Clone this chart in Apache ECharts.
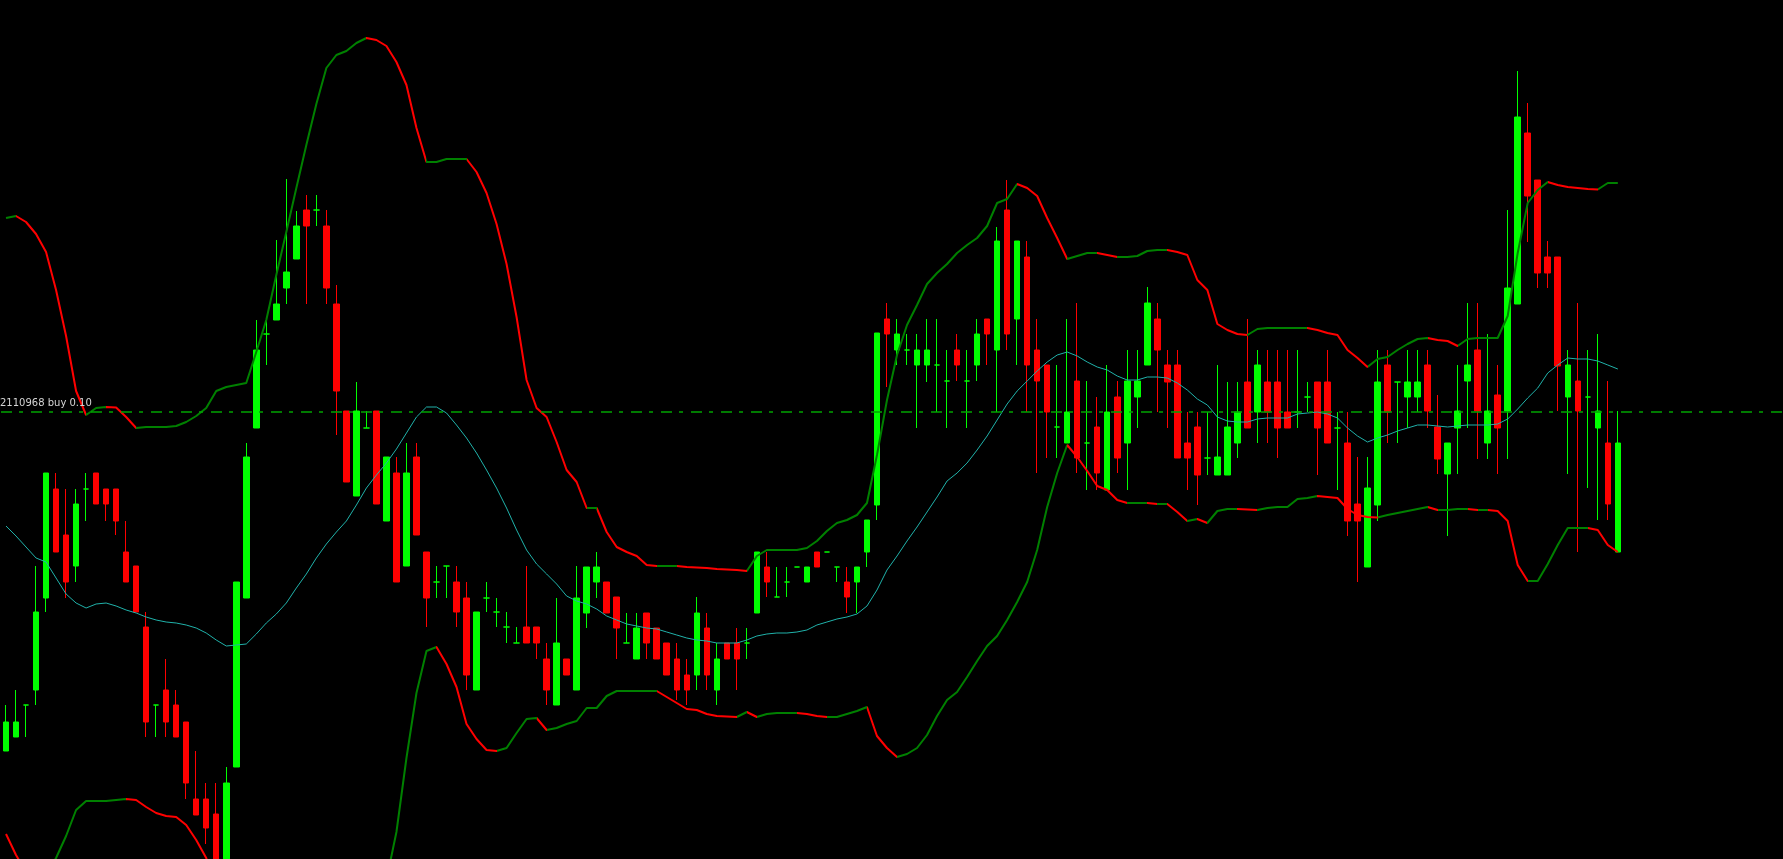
<!DOCTYPE html>
<html>
<head>
<meta charset="utf-8">
<title>Bollinger</title>
<script src="https://cdn.jsdelivr.net/npm/echarts/dist/echarts.min.js"></script>
<style>
  html, body { margin: 0; padding: 0; background: #000; }
  #chart { width: 1783px; height: 859px; }
</style>
</head>
<body>
<div id="chart"></div>
<script>
// K线数据（开、收、低、高）
const opens = [
  249, 263, 295, 310, 402, 511, 465, 434, 511, 527,
  511, 511, 448, 434, 373, 295, 310, 295, 278, 201,
  201, 186, 120, 233, 402, 572, 666, 680, 712, 741,
  790, 790, 774, 696, 589, 504, 572, 589, 479, 527,
  434, 543, 448, 418, 434, 418, 402, 310, 402, 388,
  373, 357, 373, 373, 341, 295, 341, 310, 387, 418,
  418, 403, 357, 341, 387, 372, 357, 341, 325, 325,
  372, 310, 357, 357, 357, 387, 433, 403, 418, 433,
  418, 448, 448, 433, 418, 418, 448, 495, 681, 650,
  650, 635, 635, 635, 619, 650, 619, 635, 681, 650,
  790, 681, 743, 650, 635, 573, 557, 619, 557, 573,
  510, 603, 557, 603, 635, 681, 635, 635, 557, 573,
  542, 525, 525, 557, 618, 588, 618, 618, 588, 588,
  603, 618, 618, 572, 557, 496, 433, 495, 635, 618,
  603, 603, 635, 573, 526, 572, 619, 650, 557, 605,
  589, 696, 867, 820, 743, 743, 603, 619, 603, 572,
  557, 448
]
const closes = [
  278, 278, 295, 388, 527, 448, 418, 496, 511, 496,
  496, 479, 418, 388, 278, 295, 278, 263, 217, 185,
  172, 130, 217, 418, 543, 650, 666, 696, 728, 774,
  774, 790, 712, 609, 518, 589, 572, 496, 543, 418,
  527, 465, 402, 418, 434, 388, 325, 388, 402, 388,
  373, 357, 357, 357, 310, 357, 325, 402, 433, 433,
  387, 372, 357, 372, 357, 341, 325, 310, 310, 387,
  325, 341, 341, 341, 357, 448, 418, 403, 418, 433,
  433, 433, 448, 433, 403, 433, 480, 667, 666, 666,
  650, 650, 650, 635, 619, 635, 619, 666, 666, 759,
  666, 759, 635, 619, 588, 573, 588, 542, 557, 527,
  588, 542, 619, 619, 697, 650, 618, 542, 542, 525,
  542, 543, 573, 588, 572, 635, 588, 572, 572, 588,
  603, 572, 557, 572, 479, 479, 512, 618, 588, 618,
  618, 618, 589, 541, 557, 589, 635, 589, 589, 572,
  712, 883, 804, 727, 727, 634, 635, 589, 603, 589,
  496, 557
]
const lows = [
  249, 263, 263, 295, 388, 448, 402, 418, 479, 496,
  479, 465, 418, 388, 263, 263, 263, 263, 201, 185,
  156, 120, 110, 233, 402, 572, 635, 680, 696, 741,
  696, 774, 696, 565, 518, 504, 572, 496, 479, 418,
  434, 465, 373, 402, 402, 373, 310, 310, 388, 373,
  357, 357, 357, 341, 295, 295, 325, 310, 372, 402,
  387, 341, 357, 341, 341, 341, 325, 300, 295, 310,
  310, 295, 341, 310, 341, 387, 403, 403, 403, 433,
  418, 433, 448, 418, 387, 387, 433, 480, 613, 635,
  635, 572, 618, 588, 572, 619, 572, 619, 635, 588,
  650, 635, 588, 527, 542, 542, 557, 527, 510, 510,
  510, 527, 510, 572, 635, 588, 572, 542, 510, 495,
  525, 525, 525, 542, 572, 557, 557, 542, 572, 572,
  588, 525, 557, 510, 464, 418, 433, 479, 557, 557,
  572, 588, 572, 526, 464, 526, 572, 541, 541, 526,
  541, 696, 758, 712, 712, 589, 526, 448, 512, 480,
  480, 448
]
const highs = [
  295, 310, 295, 434, 527, 527, 511, 511, 527, 527,
  511, 511, 479, 434, 388, 295, 341, 310, 278, 249,
  217, 217, 233, 418, 557, 680, 679, 760, 821, 789,
  805, 805, 790, 715, 589, 618, 589, 589, 543, 543,
  557, 557, 448, 434, 434, 434, 418, 388, 418, 402,
  388, 373, 434, 373, 357, 402, 341, 434, 433, 448,
  418, 403, 387, 387, 387, 372, 357, 357, 341, 403,
  387, 357, 357, 372, 372, 448, 448, 433, 433, 433,
  433, 448, 448, 433, 433, 433, 480, 667, 697, 681,
  666, 666, 681, 681, 650, 666, 650, 681, 681, 773,
  820, 759, 759, 681, 635, 635, 681, 697, 619, 603,
  635, 619, 650, 650, 713, 697, 650, 650, 588, 588,
  588, 635, 618, 618, 681, 650, 650, 650, 650, 650,
  618, 618, 650, 588, 588, 543, 543, 650, 650, 618,
  650, 650, 650, 605, 557, 635, 697, 697, 666, 635,
  790, 929, 897, 820, 759, 743, 650, 697, 650, 666,
  619, 589
]

// 布林带：上轨、中轨、下轨
const upperBand = [
  782, 784, 778, 766, 748, 710, 664, 609, 585, 592,
  593, 592.5, 583, 572, 573, 573, 573, 574, 578, 584,
  592, 609, 613, 615, 617, 648, 680, 725, 768, 812,
  855, 896, 932, 945, 949, 957, 962, 960, 954, 938,
  915, 872, 838, 838, 841, 841, 841, 828, 807, 776,
  736, 683, 620, 592, 583, 558, 530, 518, 492, 492,
  468, 453, 448, 444, 435, 434, 434, 434, 433, 432.5,
  432, 431, 430.5, 430, 429, 444, 450, 450, 450, 450,
  452, 459, 469, 477, 480, 485, 497, 545, 600, 645,
  675, 695, 716, 727, 736, 747, 755, 762, 774, 797,
  801, 816, 812, 804, 782, 762, 741, 744, 747, 747,
  745, 743, 743, 744, 749, 750, 750, 748, 745, 720,
  710, 676, 670, 666, 665, 671, 672, 672, 672, 672,
  672, 670, 667, 665, 650, 642, 633, 641, 643, 650,
  656, 661, 662, 660, 659, 654, 661, 662, 662, 662,
  684, 747, 797, 810, 818, 815, 813, 812, 811, 810.5,
  817, 817
]
const middleBand = [
  474, 464, 453, 442, 438, 422, 406, 397, 392, 396,
  397, 394, 390, 387, 383, 380, 378, 377, 375, 372,
  367, 360, 354, 355, 356, 366, 377, 386, 397, 412,
  426, 442, 456, 468, 479, 495, 512, 525, 537, 551,
  567, 583, 593, 593, 587, 575, 562, 547, 530, 512,
  492, 470, 450, 436, 426, 416, 404, 399, 396, 391,
  384, 380, 376, 374, 372, 371, 368, 365, 362, 360,
  359, 357, 357, 357, 360, 364, 366, 367, 367, 368,
  370, 375, 378, 381, 383, 386, 394, 410, 430, 444,
  459, 473, 488, 503, 519, 527, 537, 550, 564, 580,
  596, 609, 619, 629, 638, 645, 648, 644, 638, 633,
  630, 624, 620, 620, 623, 623, 622, 617, 610, 601,
  595, 583, 579, 578, 578, 581, 582, 582, 582, 586,
  587, 588, 586, 582, 572, 564, 558, 562, 565, 569,
  572, 575, 575, 574, 573, 574, 575, 575, 575, 576,
  581, 591, 602, 612, 627, 635, 642, 641, 641, 639,
  635, 631
]
const lowerBand = [
  166, 145, 128, 118, 125, 142, 164, 190, 199, 199,
  199, 200, 201, 200, 193, 187, 184, 183, 175, 160,
  142, 111, 95, 95, 95, 84, 74, 47, 26, 14,
  -3, -12, -20, -9, 9, 33, 62, 90, 120, 168,
  242, 307, 349, 353, 336, 313, 276, 261, 250, 249,
  252, 267, 281, 282, 270, 272, 276, 279, 292, 292,
  304, 309, 309, 309, 309, 309, 303, 297, 291, 290,
  286, 284, 283.5, 283, 288, 283, 286, 287, 287, 287,
  286, 284, 283, 283, 286, 289, 293, 264, 252, 243,
  246, 252, 265, 284, 300, 308, 323, 339, 354, 364,
  380, 398, 418, 450, 493, 527, 555, 543, 529, 514,
  510, 500, 497, 497, 497, 496, 496, 488, 479, 481,
  477, 489, 491, 491, 490.5, 490, 492, 493, 493, 501,
  502, 504, 503, 502, 491, 485, 483, 482.5, 485, 487,
  489, 491, 493, 490, 490, 491, 491, 490, 490, 489,
  479, 435, 419, 419, 436, 455, 472, 472, 472, 470,
  455, 448
]

// 挂单价位
const orderLevel = 588
const orderLabel = '2110968 buy 0.10'

const slotCount = 178
const categories = Array.from({ length: slotCount }, (_, i) => String(i))

const bullColor = '#00ff00'
const bearColor = '#ff0000'
const bandUp = '#008000'
const bandDown = '#ff0000'

const candleData = opens.map((o, i) => {
  const item = { value: [o, closes[i], lows[i], highs[i]] }
  if (o === closes[i]) {
    // 十字星统一用绿色
    item.itemStyle = { color: bullColor, color0: bullColor, borderColor: bullColor, borderColor0: bullColor }
  }
  return item
})

// 按斜率分段着色：上升绿色，下降红色
const slopePieces = (vals) => {
  const pieces = []
  let start = null
  let cur = null
  for (let j = 0; j < vals.length - 1; j++) {
    const col = vals[j + 1] >= vals[j] ? bandUp : bandDown
    if (cur === null) cur = col
    if (col !== cur) {
      // 首段不设下界，避免渐变起点丢色
      pieces.push(start === null ? { lt: j, color: cur } : { gte: start, lt: j, color: cur })
      start = j
      cur = col
    }
  }
  pieces.push({ gte: start === null ? -1 : start, color: cur })
  return pieces
}

const chart = echarts.init(document.getElementById('chart'))

const option = {
  backgroundColor: '#000',
  animation: false,
  grid: { left: 1, right: 0, top: 0, bottom: 0 },
  xAxis: {
    type: 'category',
    data: categories,
    show: false
  },
  yAxis: {
    type: 'value',
    min: 141,
    max: 1000,
    show: false
  },
  visualMap: [
    { type: 'piecewise', show: false, dimension: 0, seriesIndex: 1, pieces: slopePieces(upperBand) },
    { type: 'piecewise', show: false, dimension: 0, seriesIndex: 3, pieces: slopePieces(lowerBand) }
  ],
  series: [
    {
      type: 'candlestick',
      data: candleData,
      barWidth: 6,
      itemStyle: {
        color: bullColor,
        color0: bearColor,
        borderColor: bullColor,
        borderColor0: bearColor,
        borderWidth: 1
      },
      markLine: {
        silent: true,
        symbol: ['none', 'none'],
        lineStyle: { color: '#00a400', width: 1.5, type: [11, 7, 4, 8] },
        label: {
          show: true,
          position: 'insideStartTop',
          formatter: orderLabel,
          color: '#d4d4d4',
          fontSize: 10,
          fontFamily: 'DejaVu Sans',
          distance: [-1, 4]
        },
        data: [{ yAxis: orderLevel }]
      }
    },
    {
      name: 'upper',
      type: 'line',
      data: upperBand,
      symbol: 'none',
      lineStyle: { width: 2 }
    },
    {
      name: 'middle',
      type: 'line',
      data: middleBand,
      symbol: 'none',
      lineStyle: { width: 1, color: '#20b2aa' },
      itemStyle: { color: '#20b2aa' }
    },
    {
      name: 'lower',
      type: 'line',
      data: lowerBand,
      symbol: 'none',
      lineStyle: { width: 2 }
    }
  ]
}

chart.setOption(option)
</script>
</body>
</html>
